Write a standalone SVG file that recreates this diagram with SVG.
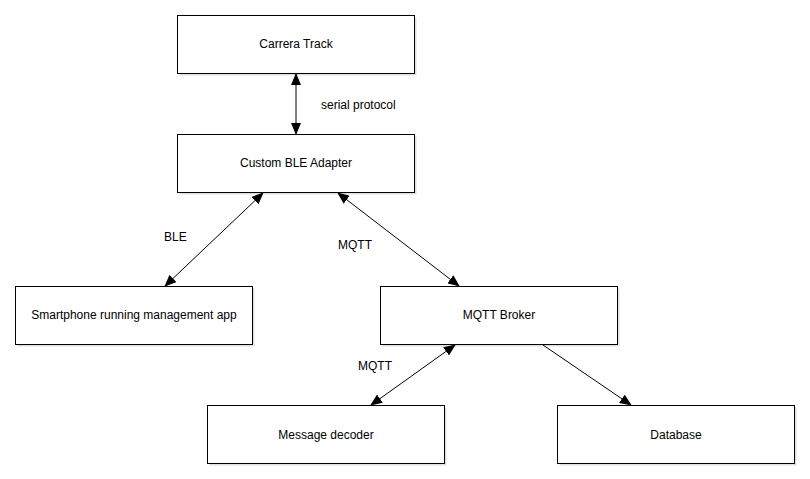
<svg xmlns="http://www.w3.org/2000/svg" width="810" height="479" viewBox="0 0 810 479">
<defs>
<style>
.box{fill:#fff;stroke:#000;stroke-width:1}
.sh{fill:#000;opacity:0.12}
.t{font-family:"Liberation Sans",Arial,sans-serif;font-size:12px;fill:#000;text-anchor:middle}
.l{font-family:"Liberation Sans",Arial,sans-serif;font-size:12px;fill:#000}
.c{stroke:#000;stroke-width:1;fill:none}
</style>
<marker id="ah" viewBox="0 0 12 10" refX="11" refY="5" markerWidth="12" markerHeight="10" markerUnits="userSpaceOnUse" orient="auto-start-reverse">
<path d="M0,0 L12,5 L0,10 z" fill="#000"/>
</marker>
</defs>
<rect width="810" height="479" fill="#fff"/>
<g id="carrera">
<rect class="sh" x="179.5" y="17.5" width="237" height="58"/>
<rect class="box" x="177.5" y="15.5" width="237" height="58"/>
<text class="t" x="296" y="48">Carrera Track</text>
</g>
<g id="ble-adapter">
<rect class="sh" x="179.5" y="136.5" width="237" height="58"/>
<rect class="box" x="177.5" y="134.5" width="237" height="58"/>
<text class="t" x="296" y="167">Custom BLE Adapter</text>
</g>
<g id="smartphone">
<rect class="sh" x="17.5" y="288.5" width="237" height="58"/>
<rect class="box" x="15.5" y="286.5" width="237" height="58"/>
<text class="t" x="134" y="319">Smartphone running management app</text>
</g>
<g id="broker">
<rect class="sh" x="382.5" y="288.5" width="237" height="58"/>
<rect class="box" x="380.5" y="286.5" width="237" height="58"/>
<text class="t" x="499" y="319">MQTT Broker</text>
</g>
<g id="decoder">
<rect class="sh" x="209.5" y="407.5" width="237" height="58"/>
<rect class="box" x="207.5" y="405.5" width="237" height="58"/>
<text class="t" x="326" y="439">Message decoder</text>
</g>
<g id="database">
<rect class="sh" x="559.5" y="407.5" width="237" height="58"/>
<rect class="box" x="557.5" y="405.5" width="237" height="58"/>
<text class="t" x="676" y="439">Database</text>
</g>
<g id="connectors">
<line class="c" x1="296" y1="74" x2="296" y2="134" marker-start="url(#ah)" marker-end="url(#ah)"/>
<line class="c" x1="263" y1="193" x2="165" y2="286" marker-start="url(#ah)" marker-end="url(#ah)"/>
<line class="c" x1="338" y1="193" x2="459" y2="286" marker-start="url(#ah)" marker-end="url(#ah)"/>
<line class="c" x1="455" y1="345" x2="371" y2="405" marker-start="url(#ah)" marker-end="url(#ah)"/>
<line class="c" x1="543" y1="345" x2="631" y2="405" marker-end="url(#ah)"/>
<text class="l" x="321" y="109">serial protocol</text>
<text class="l" x="164" y="241">BLE</text>
<text class="l" x="338" y="249">MQTT</text>
<text class="l" x="358" y="370">MQTT</text>
</g>
</svg>
